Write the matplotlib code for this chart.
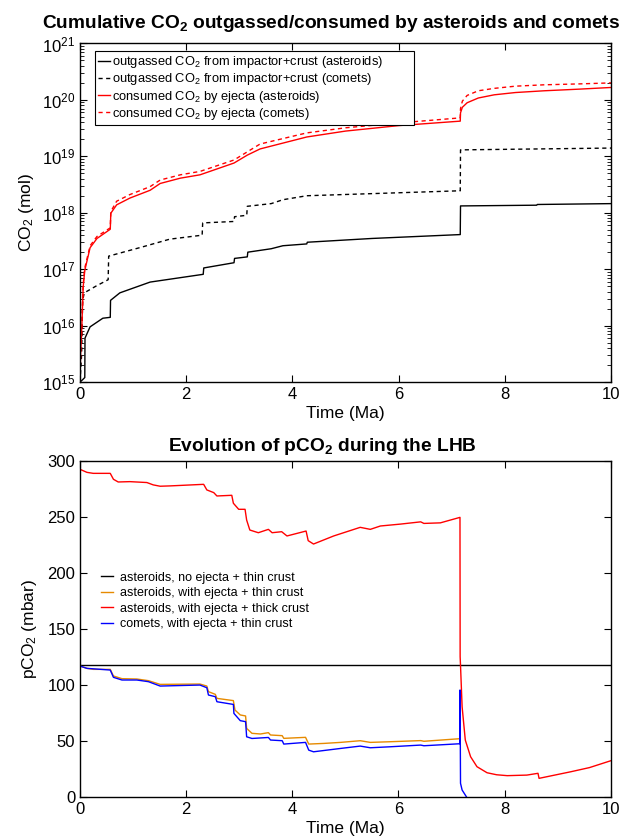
import numpy as np
import matplotlib
matplotlib.use('Agg')
import matplotlib.pyplot as plt
from matplotlib.ticker import LogLocator, MultipleLocator

plt.rcParams['font.family'] = ['Liberation Sans', 'DejaVu Sans']
plt.rcParams['mathtext.fontset'] = 'custom'
plt.rcParams['mathtext.rm'] = 'Liberation Sans'
plt.rcParams['mathtext.it'] = 'Liberation Sans:italic'
plt.rcParams['mathtext.bf'] = 'Liberation Sans:bold'

# ---- top panel: cumulative CO2 (mol) ----
t_out_ast = [0, 0.05, 0.09, 0.094, 0.19, 0.43, 0.57, 0.575, 0.75, 1.32, 2.32, 2.33, 2.9, 2.91,
             3.15, 3.16, 3.6, 3.82, 4.27, 4.28, 5.5, 7.16, 7.165, 8.6, 8.61, 10]
co2_out_ast = [1e15, 1.1e15, 1.2e15, 6e15, 9.5e15, 1.35e16, 1.4e16, 2.8e16, 3.8e16, 5.9e16, 8.1e16,
               1.05e17, 1.3e17, 1.55e17, 1.65e17, 2.0e17, 2.3e17, 2.6e17, 2.8e17, 3.0e17, 3.5e17,
               4.1e17, 1.32e18, 1.36e18, 1.4e18, 1.45e18]

t_out_com = [0, 0.03, 0.05, 0.08, 0.3, 0.53, 0.54, 1.19, 1.69, 2.3, 2.31, 2.9, 2.91, 3.14, 3.15,
             3.6, 3.82, 4.27, 7.16, 7.165, 10]
co2_out_com = [1e15, 3e15, 2.8e16, 3.8e16, 5e16, 6.5e16, 1.7e17, 2.5e17, 3.4e17, 4e17, 6.6e17,
               7e17, 8.5e17, 9e17, 1.3e18, 1.45e18, 1.7e18, 2.0e18, 2.45e18, 1.3e19, 1.4e19]

t_cons = [0, 0.01, 0.03, 0.06, 0.09, 0.19, 0.32, 0.57, 0.58, 0.69, 0.94, 1.32, 1.51, 1.89, 2.26,
          2.9, 3.15, 3.39, 4.27, 5.0, 6.0, 7.16, 7.165, 7.2, 7.29, 7.5, 7.8, 8.2, 8.74, 9.4, 10]
cons_ast = [1e15, 3e15, 7.4e15, 4.9e16, 9.5e16, 2.4e17, 3.5e17, 5.1e17, 9.8e17, 1.38e18, 1.82e18,
            2.5e18, 3.3e18, 4.1e18, 4.7e18, 7.6e18, 1.05e19, 1.35e19, 2.2e19, 2.8e19, 3.5e19,
            4.2e19, 5.9e19, 7.4e19, 8.9e19, 1.08e20, 1.23e20, 1.35e20, 1.45e20, 1.55e20, 1.66e20]
cons_com = [1e15, 3.3e15, 8e15, 5.5e16, 1.05e17, 2.6e17, 3.8e17, 5.4e17, 1.05e18, 1.6e18, 2.1e18,
            2.9e18, 3.8e18, 4.7e18, 5.4e18, 8.6e18, 1.2e19, 1.65e19, 2.6e19, 3.2e19, 3.9e19,
            4.8e19, 7e19, 9.5e19, 1.2e20, 1.45e20, 1.6e20, 1.75e20, 1.85e20, 1.92e20, 2.0e20]

# ---- bottom panel: pCO2 (mbar) ----
t_noej = [0, 10]
p_noej = [117.5, 117.5]

t_thick = [0, 0.13, 0.25, 0.57, 0.63, 0.72, 0.94, 1.26, 1.38, 1.51, 1.7, 2.33, 2.39, 2.52, 2.58,
           2.86, 2.89, 2.99, 3.11, 3.14, 3.2, 3.3, 3.36, 3.55, 3.62, 3.8, 3.9, 4.26, 4.3,
           4.4, 4.78, 5.28, 5.47, 5.66, 6.04, 6.42, 6.48, 6.79, 7.16, 7.163, 7.17, 7.2, 7.26,
           7.36, 7.48, 7.67, 7.85, 8.05, 8.42, 8.63, 8.65, 9.25, 9.6, 10]
p_thick = [292.3, 289.6, 288.7, 288.7, 283.4, 281, 281.3, 280.5, 278.4, 277.2, 277.5, 278.9, 273.9,
           271.5, 268.5, 269.1, 262, 256.6, 256.6, 247, 238.1, 236.6, 235.7, 238.7, 235.7, 236.6,
           232.8, 237.2, 228.6, 225.6, 232.8, 240.5, 238.7, 241.7, 243.4, 245.4, 244, 244.5, 249.4,
           125, 117.3, 80.4, 50.6, 35.7, 26.8, 21.4, 19.6, 18.8, 19.3, 20.9, 16.4, 22.3, 26, 32.1]

t_thin = [0, 0.13, 0.25, 0.57, 0.63, 0.79, 1.07, 1.29, 1.51, 2.26, 2.39, 2.42, 2.55, 2.58, 2.89,
          2.92, 3.02, 3.12, 3.14, 3.24, 3.4, 3.55, 3.59, 3.81, 3.84, 4.25, 4.31, 4.6, 4.91, 5.28,
          5.47, 5.85, 6.42, 6.48, 7.16]
p_thin = [116.7, 114.6, 113.7, 113.7, 107.8, 105.4, 105.1, 103.6, 100.3, 100.6, 98.8, 93.8, 91.4,
          87.8, 85.8, 77.4, 73, 72.1, 61, 56.6, 56, 57.2, 55.1, 54.5, 52.1, 53, 47, 47.6, 48.5,
          50, 48.5, 49.1, 50.1, 49.5, 51.8]

t_com = [0, 0.13, 0.57, 0.63, 0.79, 1.07, 1.29, 1.51, 2.26, 2.39, 2.42, 2.55, 2.58, 2.89, 2.9,
         3.02, 3.12, 3.14, 3.24, 3.55, 3.59, 3.81, 3.84, 4.25, 4.31, 4.4, 4.91, 5.28, 5.47, 5.85,
         6.42, 6.48, 7.16, 7.161, 7.17, 7.2, 7.28]
p_com = [116.7, 114.6, 113.1, 106.6, 104.2, 104.2, 102.7, 98.8, 99.7, 97.3, 90.8, 89.3, 84.8,
         82.4, 74.4, 67.9, 67, 53.5, 52, 52.9, 50.6, 50, 47, 48.5, 41.6, 40.1, 43.1, 45.2, 43.7,
         44.6, 46.1, 45.5, 47.3, 95.3, 12, 6, 0]

fig = plt.figure(figsize=(6.27, 8.39), dpi=100)

ax1 = fig.add_axes([0.1276, 0.5447, 0.847, 0.4035])
ax1.plot(t_out_ast, co2_out_ast, color='black', lw=1.0,
         label='outgassed CO$_2$ from impactor+crust (asteroids)')
ax1.plot(t_out_com, co2_out_com, color='black', lw=1.0, ls=(0, (3, 2.5)),
         label='outgassed CO$_2$ from impactor+crust (comets)')
ax1.plot(t_cons, cons_ast, color='red', lw=1.0, label='consumed CO$_2$ by ejecta (asteroids)')
ax1.plot(t_cons, cons_com, color='red', lw=1.0, ls=(0, (3, 2.5)),
         label='consumed CO$_2$ by ejecta (comets)')
ax1.set_yscale('log')
ax1.set_xlim(0, 10)
ax1.set_ylim(1e15, 1e21)
ax1.set_xticks(np.arange(0, 11, 2))
ax1.yaxis.set_minor_locator(LogLocator(base=10, subs=np.arange(2, 10), numticks=20))
ax1.set_xlabel('Time (Ma)', fontsize=12.5, labelpad=3)
ax1.set_ylabel('CO$_2$ (mol)', fontsize=12.5, labelpad=4)
ax1.set_title(r'Cumulative CO$_\mathbf{2}$ outgassed/consumed by asteroids and comets',
              fontsize=13.8, fontweight='bold', pad=11, x=0.473)
leg1 = ax1.legend(loc='upper left', bbox_to_anchor=(0.028, 0.0, 0.601, 0.978), mode='expand',
                  borderaxespad=0, fontsize=9.3, handlelength=0.9, handletextpad=0.15,
                  labelspacing=0.1, borderpad=0.25, fancybox=False, framealpha=1,
                  edgecolor='black')
leg1.get_frame().set_linewidth(0.8)

ax2 = fig.add_axes([0.1276, 0.0504, 0.8464, 0.4005])
ax2.plot(t_noej, p_noej, color='black', lw=1.0, label='asteroids, no ejecta + thin crust')
ax2.plot(t_thin, p_thin, color='#E68A00', lw=1.0, label='asteroids, with ejecta + thin crust')
ax2.plot(t_thick, p_thick, color='red', lw=1.0, label='asteroids, with ejecta + thick crust')
ax2.plot(t_com, p_com, color='blue', lw=1.0, label='comets, with ejecta + thin crust')
ax2.set_xlim(0, 10)
ax2.set_ylim(0, 300)
ax2.set_xticks(np.arange(0, 11, 2))
ax2.yaxis.set_major_locator(MultipleLocator(50))
ax2.set_xlabel('Time (Ma)', fontsize=12.5, labelpad=3)
ax2.set_ylabel('pCO$_2$ (mbar)', fontsize=12.5, labelpad=6)
ax2.set_title(r'Evolution of pCO$_\mathbf{2}$ during the LHB', fontsize=13.8,
              fontweight='bold', pad=7, x=0.456)
ax2.legend(loc='upper left', bbox_to_anchor=(0.03, 0.685), borderaxespad=0, frameon=False,
           fontsize=9, handlelength=1.0, handletextpad=0.5, labelspacing=0.28)

for ax in (ax1, ax2):
    ax.tick_params(which='both', direction='in', top=True, right=True, labelsize=12)
    ax.tick_params(which='major', length=5)
    ax.tick_params(which='minor', length=3)
    for s in ax.spines.values():
        s.set_linewidth(1.0)

fig.savefig('out.png', dpi=100)
